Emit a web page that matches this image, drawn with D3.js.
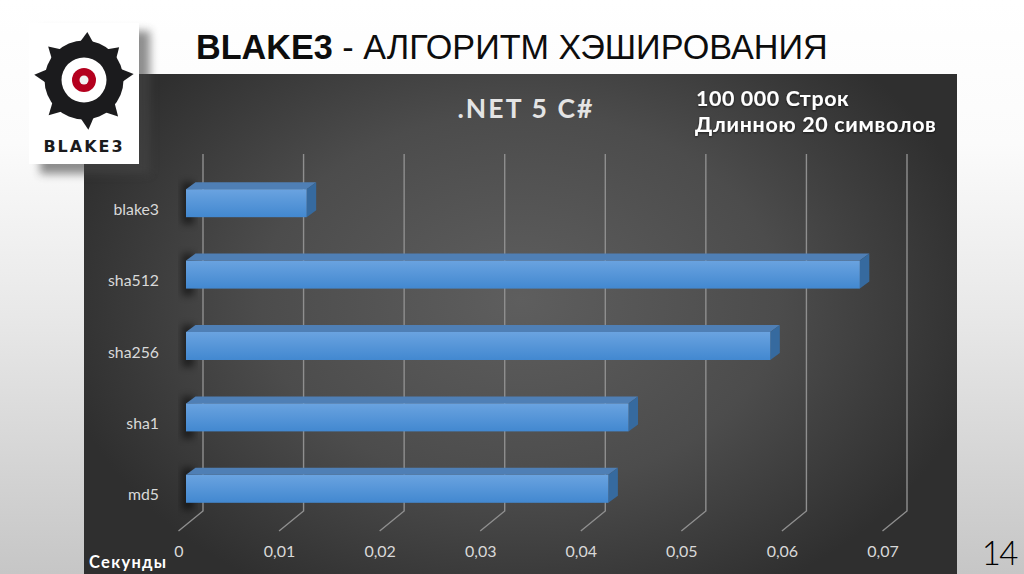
<!DOCTYPE html>
<html><head><meta charset="utf-8">
<script src="https://cdn.jsdelivr.net/npm/d3@7"></script>
<style>html,body{margin:0;padding:0;background:#fff;overflow:hidden}svg{display:block}</style>
</head><body><svg id="c" width="1024" height="574"></svg>
<script>
const categories = ["blake3","sha512","sha256","sha1","md5"];
const seconds = [0.0120,0.0670,0.0581,0.0440,0.0420];
const tickValues = [0,0.01,0.02,0.03,0.04,0.05,0.06,0.07];
const tickLabels = ["0","0,01","0,02","0,03","0,04","0,05","0,06","0,07"];
const slideTitleBold = "BLAKE3";
const slideTitleRest = " - АЛГОРИТМ ХЭШИРОВАНИЯ";
const chartTitle = ".NET 5 C#";
const noteLines = ["100 000 Строк","Длинною 20 символов"];
const axisName = "Секунды";
const pageNumber = "14";
const logoWord = "BLAKE3";

const svg = d3.select("#c");
const defs = svg.append("defs");
function lin(id,x2,y2,stops){const g=defs.append("linearGradient").attr("id",id).attr("x1",0).attr("y1",0).attr("x2",x2).attr("y2",y2);
  stops.forEach(s=>g.append("stop").attr("offset",s[0]).attr("stop-color",s[1]));}
lin("page",0,1,[[0,"#ffffff"],[0.25,"#fbfbfb"],[0.55,"#e8e8e8"],[1,"#c6c6c6"]]);
lin("face",0,1,[[0,"#6aa3e0"],[1,"#4288d0"]]);
const rg=defs.append("radialGradient").attr("id","panel").attr("gradientUnits","userSpaceOnUse")
  .attr("cx",520).attr("cy",300).attr("r",470).attr("gradientTransform","translate(520 300) scale(1 0.72) translate(-520 -300)");
[[0,"#5e5e5e"],[0.55,"#4c4c4c"],[1,"#2f2f2f"]].forEach(s=>rg.append("stop").attr("offset",s[0]).attr("stop-color",s[1]));
const blur=(id,d)=>defs.append("filter").attr("id",id).attr("x","-30%").attr("y","-30%").attr("width","160%").attr("height","160%").append("feGaussianBlur").attr("stdDeviation",d);
blur("b4",4);blur("b3",3.5);
const ds=defs.append("filter").attr("id","glow");
ds.append("feDropShadow").attr("dx",0).attr("dy",1).attr("stdDeviation",1).attr("flood-color","#000").attr("flood-opacity",0.6);

svg.append("rect").attr("width",1024).attr("height",574).attr("fill","url(#page)");
svg.append("rect").attr("x",84).attr("y",74).attr("width",873).attr("height",500).attr("fill","url(#panel)");

const x = d3.scaleLinear().domain([0,0.07]).range([203,907]);
const y = d3.scaleBand().domain(categories).range([167.5,524.5]).paddingInner(0.608).paddingOuter(0.304);
const wallTop=154, wallBottom=511, floorDx=-24.5, floorDy=20;
const barShift=-17, depthX=9.5, depthY=-7;

const grid=svg.append("g").attr("fill","none").attr("stroke","#8f8f8f").attr("stroke-width",1.4);
grid.selectAll("path").data(tickValues).join("path")
  .attr("d",d=>d3.line()([[x(d),wallTop],[x(d),wallBottom],[x(d)+floorDx,wallBottom+floorDy]]));

const labelFont="Lato, 'Open Sans', sans-serif";
svg.append("g").selectAll("text").data(tickValues).join("text")
  .attr("x",d=>x(d)-24).attr("y",557).attr("text-anchor","middle")
  .attr("font-family",labelFont).attr("font-size",16).attr("fill","#d9d9d9")
  .text((d,i)=>tickLabels[i]);
svg.append("g").selectAll("text").data(categories).join("text")
  .attr("x",159).attr("y",d=>y(d)+y.bandwidth()/2+11.5).attr("text-anchor","end")
  .attr("font-family",labelFont).attr("font-size",15.8).attr("fill","#d9d9d9").text(d=>d);

const bars=svg.append("g").selectAll("g").data(categories).join("g");
const fx=v=>x(v)+barShift;
bars.append("rect").attr("x",fx(0)-4).attr("y",d=>y(d)-7).attr("width",12).attr("height",y.bandwidth()+14)
  .attr("fill","#000").attr("opacity",0.5).attr("filter","url(#b3)");
bars.append("path").attr("fill","#4f7fb5").attr("d",(d,i)=>{const a=fx(0),b=fx(seconds[i]),t=y(d);
  return d3.line()([[a,t],[a+depthX,t+depthY],[b+depthX,t+depthY],[b,t]])+"Z";});
bars.append("path").attr("fill","#366a9f").attr("d",(d,i)=>{const b=fx(seconds[i]),t=y(d),h=y.bandwidth();
  return d3.line()([[b,t],[b+depthX,t+depthY],[b+depthX,t+h+depthY],[b,t+h]])+"Z";});
bars.append("rect").attr("x",fx(0)).attr("y",d=>y(d)).attr("height",y.bandwidth())
  .attr("width",(d,i)=>fx(seconds[i])-fx(0)).attr("fill","url(#face)");

svg.append("text").attr("x",526).attr("y",118).attr("text-anchor","middle")
  .attr("font-family",labelFont).attr("font-weight",700).attr("font-size",26.5).attr("letter-spacing",2.1).attr("fill","#e4e4e4").text(chartTitle);
svg.append("g").selectAll("text").data(noteLines).join("text")
  .attr("x",(d,i)=>i?695:696).attr("y",(d,i)=>i?131.5:105.5)
  .attr("font-family","Lato, sans-serif").attr("font-weight",700).attr("font-size",21.4).attr("letter-spacing",(d,i)=>i?0.7:0.6).attr("fill","#fff").attr("filter","url(#glow)").text(d=>d);
svg.append("text").attr("x",89).attr("y",568).attr("font-family","Lato, sans-serif").attr("font-weight",700).attr("font-size",16.5).attr("letter-spacing",1.3).attr("fill","#fff").text(axisName);

const t=svg.append("text").attr("x",196).attr("y",59).attr("font-family","'Liberation Sans', Arial, sans-serif").attr("font-size",34.2).attr("fill","#0d0d0d");
t.append("tspan").attr("font-weight",700).text(slideTitleBold);
t.append("tspan").attr("xml:space","preserve").text(slideTitleRest);
svg.append("text").attr("x",1017).attr("y",565).attr("text-anchor","end").attr("font-family","Lato, sans-serif").attr("font-weight",300).attr("font-size",33).attr("letter-spacing",-1.5).attr("fill","#000").text(pageNumber);

const logo=svg.append("g");
logo.append("rect").attr("x",40).attr("y",31).attr("width",110).attr("height",143).attr("fill","#444").attr("opacity",0.6).attr("filter","url(#b4)");
logo.append("rect").attr("x",29).attr("y",23).attr("width",110).attr("height",141).attr("fill","#fff");
const cx=84,cy=80;
const spikes=logo.append("g").attr("fill","#1b1b1d");
const spikeAngles=[-86,-43,-7,47,85,135,186,223];
const spikeTips=[48,48,50,50,50,50,50,49];
spikeAngles.forEach((a,i)=>{const r=a*Math.PI/180,n=r+Math.PI/2,tip=spikeTips[i],w=6.5;
  const p=[[cx+Math.cos(r)*38+Math.cos(n)*w,cy+Math.sin(r)*38+Math.sin(n)*w],[cx+Math.cos(r)*tip,cy+Math.sin(r)*tip],[cx+Math.cos(r)*38-Math.cos(n)*w,cy+Math.sin(r)*38-Math.sin(n)*w]];
  spikes.append("path").attr("d",d3.line()(p)+"Z");});
logo.append("circle").attr("cx",cx).attr("cy",cy).attr("r",39.5).attr("fill","#1b1b1d");
logo.append("circle").attr("cx",cx).attr("cy",cy).attr("r",22.5).attr("fill","#fff");
logo.append("circle").attr("cx",cx).attr("cy",cy).attr("r",12).attr("fill","#b4001e");
logo.append("circle").attr("cx",cx).attr("cy",cy).attr("r",4.5).attr("fill","#f2f2f2");
logo.append("text").attr("x",84).attr("y",152).attr("text-anchor","middle").attr("font-family","'DejaVu Sans', sans-serif").attr("font-weight",700).attr("font-size",16).attr("letter-spacing",2).attr("fill","#1b1b1d").text(logoWord);
</script></body></html>
